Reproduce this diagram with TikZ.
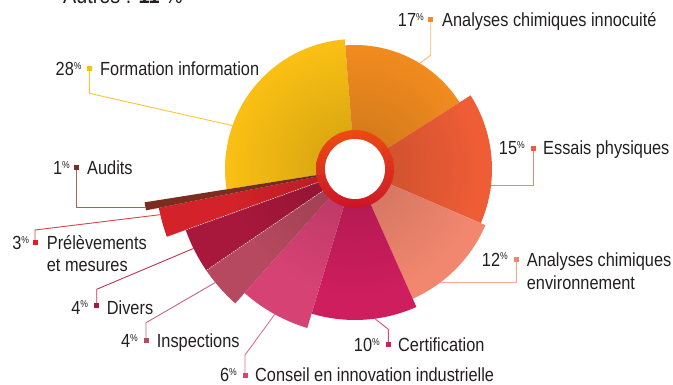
\documentclass[tikz,border=0pt]{standalone}
\usepackage{fontspec}
\setmainfont[FakeStretch=0.86]{Liberation Sans}
\usetikzlibrary{fadings}
\tikzfading[name=shadowfade, inner color=transparent!0, outer color=transparent!100]
\definecolor{txt}{HTML}{231F20}
\definecolor{cYel}{HTML}{F9BF14}\definecolor{lYel}{HTML}{F8C53A}
\definecolor{cOra}{HTML}{F28C1F}\definecolor{lOra}{HTML}{F7B77A}
\definecolor{cEss}{HTML}{EE5D36}\definecolor{lEss}{HTML}{F2866A}
\definecolor{cEnv}{HTML}{F2876F}\definecolor{lEnv}{HTML}{F6A58F}
\definecolor{cCer}{HTML}{CE1E5D}\definecolor{lCer}{HTML}{D8497C}
\definecolor{cCon}{HTML}{D74274}\definecolor{lCon}{HTML}{DE6D93}
\definecolor{cIns}{HTML}{B6495F}\definecolor{lIns}{HTML}{C8637E}
\definecolor{cDiv}{HTML}{A8183C}\definecolor{lDiv}{HTML}{B8344F}
\definecolor{cPre}{HTML}{D3222A}\definecolor{lPre}{HTML}{D9434A}
\definecolor{cAud}{HTML}{7B2E1F}\definecolor{lAud}{HTML}{A0685C}
\definecolor{ringA}{HTML}{EE4812}\definecolor{ringB}{HTML}{CC1426}
\newcommand\wedgeseg[4]{\fill[#1] (c) -- ++(#2:#4) arc[start angle=#2, end angle=#3, radius=#4] -- cycle;}
\newcommand\pct{\raisebox{6.3pt}{\fontsize{10}{10}\selectfont\%}}
\begin{document}
\begin{tikzpicture}[x=1pt,y=1pt,
  lbl/.style={anchor=base west, font=\fontsize{19}{22}\selectfont, text=txt, inner sep=0pt},
  pc/.style={anchor=base east, font=\fontsize{19}{22}\selectfont, text=txt, inner sep=0pt},
  mk/.style={fill=#1, minimum size=5pt, inner sep=0pt, rectangle, draw=none},
  lead/.style={draw=#1, line width=0.9pt}]
\useasboundingbox (0,-385) rectangle (673,0);
\coordinate (c) at (355,-169);
% sectors
\wedgeseg{cYel}{94.5}{189}{130pt}
\wedgeseg{cOra}{32.5}{94.5}{124pt}
\wedgeseg{cEss}{-23.3}{32.5}{137pt}
\wedgeseg{cEnv}{-66}{-23.3}{142pt}
\wedgeseg{cCer}{-106.7}{-66}{151pt}
\wedgeseg{cCon}{-131.7}{-106.7}{166pt}
\wedgeseg{cIns}{-145.7}{-131.7}{180pt}
\wedgeseg{cDiv}{-160.2}{-145.7}{180pt}
\wedgeseg{cPre}{-168.8}{-160.2}{200pt}
\wedgeseg{cAud}{-171}{-168.8}{213pt}
\fill[black, fill opacity=0.16, path fading=shadowfade] (c) circle (125pt);
\draw[white, line width=0.5pt, dash pattern=on 1.2pt off 1.2pt] (c) -- ++(-145.7:180pt);
\draw[white, line width=0.5pt, dash pattern=on 1.2pt off 1.2pt] (c) -- ++(-160.2:180pt);
% ring
\shade[top color=ringA, bottom color=ringB, fill opacity=0.95] (c) circle (39pt);
\fill[white] (c) circle (30pt);
% top text (cut)
\node[anchor=base west, font=\fontsize{23}{25}\selectfont, text=txt, inner sep=0pt] (autres) at (63,-4) {Autres : \textbf{11} \%};
% arc end points
\coordinate (e1) at ([shift={(58.4:124pt)}]c);
\coordinate (e2) at ([shift={(-6.7:137pt)}]c);
\coordinate (e3) at ([shift={(-53.2:142pt)}]c);
\coordinate (e4) at ([shift={(-82.4:151pt)}]c);
\coordinate (e5) at ([shift={(-118.9:166pt)}]c);
\coordinate (e6) at ([shift={(-140.9:180pt)}]c);
\coordinate (e7) at ([shift={(-153.8:180pt)}]c);
\coordinate (e8) at ([shift={(-166.8:200pt)}]c);
\coordinate (e9) at ([shift={(-169.6:213pt)}]c);
\coordinate (e10) at ([shift={(160.5:130pt)}]c);
% markers
\node[mk=cOra] (m1) at (430.7,-20) {};
\node[mk=cEss] (m2) at (533.3,-148.3) {};
\node[mk=cEnv] (m3) at (516,-259.3) {};
\node[mk=cCer] (m4) at (388.3,-344) {};
\node[mk=cCon] (m5) at (245,-375.5) {};
\node[mk=cIns] (m6) at (146,-340.7) {};
\node[mk=cDiv] (m7) at (96.7,-306) {};
\node[mk=cPre] (m8) at (35,-242.7) {};
\node[mk=cAud] (m9) at (76.7,-167.3) {};
\node[mk=cYel] (m10) at (89.3,-68.3) {};
% leaders
\draw[lead=lOra] (m1.center) -- ++(0,-35) -- (e1);
\draw[lead=lEss] (m2.center) -- (m2.center |- e2) -- (e2);
\draw[lead=lEnv] (m3.center) -- (m3.center |- e3) -- (e3);
\draw[lead=lCer] (m4.center) -- ++(0,14.7) -- (e4);
\draw[lead=lCon] (m5.center) -- ++(0,20.5) -- (e5);
\draw[lead=lIns] (m6.center) -- ++(0,18) -- (e6);
\draw[lead=lDiv] (m7.center) -- ++(0,16.7) -- (e7);
\draw[lead=lPre] (m8.center) -- ++(0,12.7) -- (e8);
\draw[lead=lAud] (m9.center) -- (m9.center |- e9) -- (e9);
\draw[lead=lYel] (m10.center) -- ++(0,-25) -- (e10);
\node[mk=cOra] at (m1) {};\node[mk=cEss] at (m2) {};\node[mk=cEnv] at (m3) {};
\node[mk=cCer] at (m4) {};\node[mk=cCon] at (m5) {};\node[mk=cIns] at (m6) {};
\node[mk=cDiv] at (m7) {};\node[mk=cPre] at (m8) {};\node[mk=cAud] at (m9) {};
\node[mk=cYel] at (m10) {};
% labels
\node[pc] (p1) at (424,-26.7) {17\pct};
\node[lbl] (l1) at (442,-26.7) {Analyses chimiques innocuité};
\node[pc] (p2) at (525,-155) {15\pct};
\node[lbl] (l2) at (543,-155) {Essais physiques};
\node[pc] (p3) at (508,-266) {12\pct};
\node[lbl] (l3a) at (526.7,-266) {Analyses chimiques};
\node[lbl] (l3b) at (526.7,-289.5) {environnement};
\node[pc] (p4) at (380,-351.7) {10\pct};
\node[lbl] (l4) at (398,-351.7) {Certification};
\node[pc] (p5) at (237,-381.5) {6\pct};
\node[lbl] (l5) at (255,-381.5) {Conseil en innovation industrielle};
\node[pc] (p6) at (138,-348) {4\pct};
\node[lbl] (l6) at (156.7,-348) {Inspections};
\node[pc] (p7) at (88.3,-314) {4\pct};
\node[lbl] (l7) at (106.7,-314) {Divers};
\node[pc] (p8) at (29.3,-250) {3\pct};
\node[lbl] (l8a) at (46.7,-250) {Prélèvements};
\node[lbl] (l8b) at (46.7,-271.5) {et mesures};
\node[pc] (p9) at (70,-175) {1\pct};
\node[lbl] (l9) at (87,-175) {Audits};
\node[pc] (p10) at (81.7,-76) {28\pct};
\node[lbl] (l10) at (100,-76) {Formation information};
\end{tikzpicture}
\end{document}
